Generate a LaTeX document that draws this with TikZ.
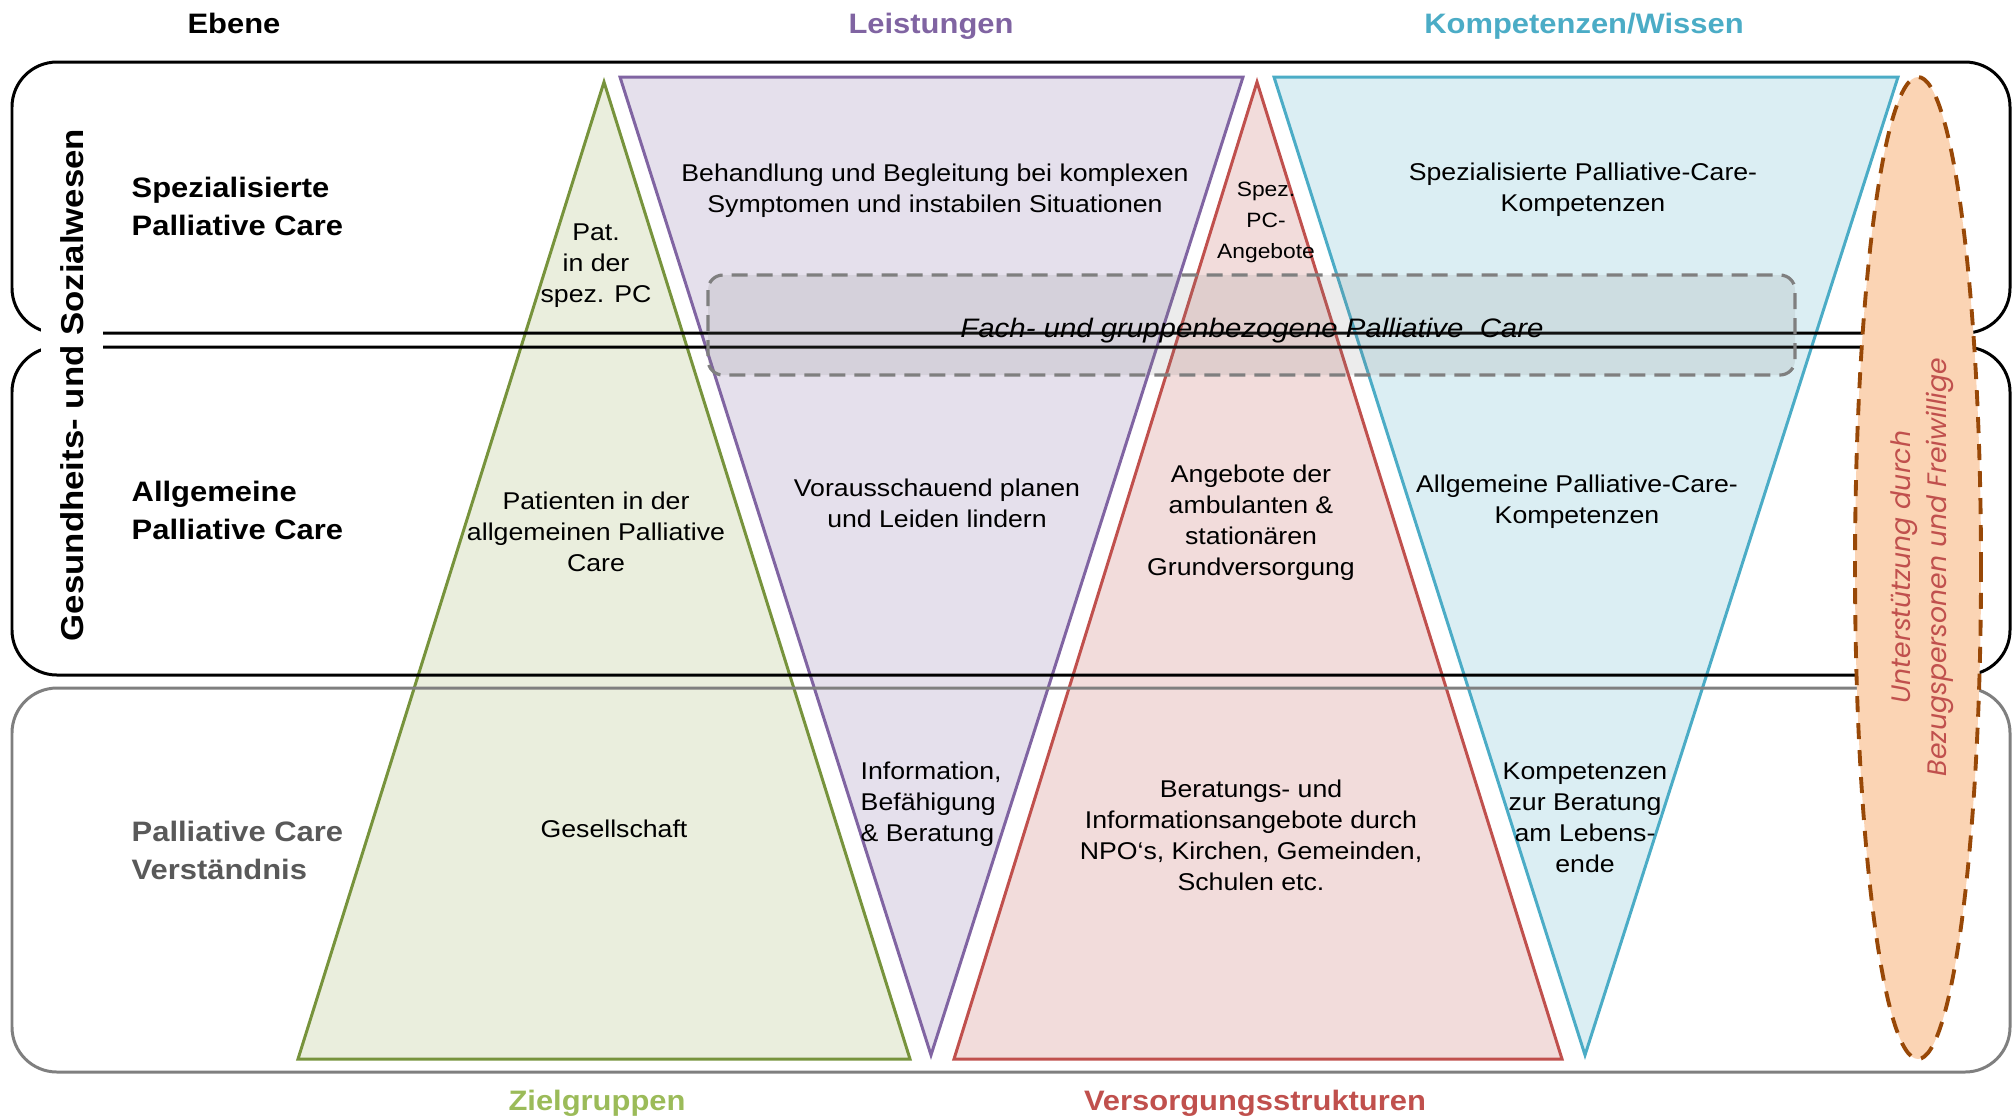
\documentclass[tikz,border=0pt]{standalone}
\usepackage{fontspec}
\setmainfont{Liberation Sans}[FakeStretch=1.1]
\newfontfamily\helperfont{Poppins}
\usepackage{xcolor}
\usetikzlibrary{positioning}

\definecolor{zgreen}{HTML}{77933C}
\definecolor{zgreenfill}{HTML}{EAEEDD}
\definecolor{zhead}{HTML}{9BBB59}
\definecolor{lpurple}{HTML}{8064A2}
\definecolor{lpurplefill}{HTML}{E5E0EC}
\definecolor{vred}{HTML}{C0504D}
\definecolor{vredfill}{HTML}{F2DCDB}
\definecolor{kblue}{HTML}{4BACC6}
\definecolor{kbluefill}{HTML}{DBEEF3}
\definecolor{ubrown}{HTML}{984807}
\definecolor{ubrownfill}{HTML}{FBD4B4}
\definecolor{verstgray}{HTML}{595959}
\definecolor{boxgray}{HTML}{7F7F7F}

\begin{document}
\begin{tikzpicture}[x=0.1mm, y=-0.1mm,
  tri/.style={line width=0.85pt},
  ebenebox/.style={line width=0.85pt, rounded corners=4.5mm},
  body/.style={align=center, inner sep=0pt, font=\fontsize{6.9}{8.8}\selectfont},
  head/.style={inner sep=0pt, anchor=base, font=\fontsize{8}{10}\selectfont\bfseries},
  ebenelabel/.style={align=left, inner sep=0pt, anchor=west,
    font=\fontsize{8}{10.8}\selectfont\bfseries}]

  \useasboundingbox (0,0) rectangle (2016,1118);

  % the four columns: two pyramids, two funnels
  \draw[tri, draw=zgreen, fill=zgreenfill] (604,82) -- (910,1059) -- (298,1059) -- cycle;
  \draw[tri, draw=lpurple, fill=lpurplefill] (620,77) -- (1243,77) -- (931,1055) -- cycle;
  \draw[tri, draw=vred, fill=vredfill] (1257,82) -- (1562,1059) -- (954,1059) -- cycle;
  \draw[tri, draw=kblue, fill=kbluefill] (1274,77) -- (1898,77) -- (1585,1055) -- cycle;

  % levels
  \draw[ebenebox] (12,62) rectangle (2010,333);
  \draw[ebenebox] (12,347) rectangle (2010,675);
  \draw[ebenebox, draw=boxgray] (12,688) rectangle (2010,1072);

  \node[fill=white, inner sep=1.9mm, rotate=90,
    font=\fontsize{9}{11}\selectfont\bfseries] (gsw) at (72,385)
    {Gesundheits- und Sozialwesen};

  % cross-cutting band
  \draw[draw=boxgray, line width=0.9pt, dash pattern=on 1.6mm off 0.9mm,
    fill=boxgray, fill opacity=0.15, rounded corners=1.5mm]
    (708,275) rectangle (1795,375);
  \node[inner sep=0pt, font=\fontsize{7.6}{9}\selectfont\itshape] (fach) at (1252,331)
    {Fach- und gruppenbezogene Palliative\ \ Care};

  % support by relatives and volunteers
  \draw[draw=ubrown, fill=ubrownfill, line width=1.1pt, dash pattern=on 1.6mm off 1.1mm]
    (1918,568) ellipse [x radius=6.3mm, y radius=49.1mm];
  \node[rotate=90, align=center, inner sep=0pt, text=vred,
    font=\helperfont\itshape\fontsize{7.6}{10.2}\selectfont] (unter) at (1922,567)
    {Unterstützung durch\\Bezugspersonen und Freiwillige};

  % column titles
  \node[head] (ebene) at (234,33) {Ebene};
  \node[head, text=lpurple] (leist) at (931,33) {Leistungen};
  \node[head, text=kblue] (komp) at (1584,33) {Kompetenzen/Wissen};
  \node[head, text=zhead] (ziel) at (597,1110) {Zielgruppen};
  \node[head, text=vred] (vers) at (1255,1110) {Versorgungsstrukturen};

  % level names
  \node[ebenelabel] (lvspez) at (131,206) {Spezialisierte\\Palliative Care};
  \node[ebenelabel] (lvallg) at (131,510) {Allgemeine\\Palliative Care};
  \node[ebenelabel, text=verstgray] (lvverst) at (131,850) {Palliative Care\\Verständnis};

  % Zielgruppen
  \node[body] (patspez) at (596,266) {Pat.\\in der\\spez. PC};
  \node[body] (patallg) at (596,532) {Patienten in der\\allgemeinen Palliative\\Care};
  \node[body] (gesell) at (614,829) {Gesellschaft};

  % Leistungen
  \node[body] (behand) at (935,191)
    {Behandlung und Begleitung bei komplexen\\Symptomen und instabilen Situationen};
  \node[body] (voraus) at (937,503) {Vorausschauend planen\\und Leiden lindern};
  \node[body, align=left, anchor=west] (info) at (860,804)
    {Information,\\Befähigung\\\& Beratung};

  % Versorgungsstrukturen
  \node[body, font=\fontsize{5.9}{8.8}\selectfont] (spezpc) at (1266,222)
    {Spez.\\PC-\\Angebote};
  \node[body] (grundv) at (1251,523)
    {Angebote der\\ambulanten \&\\stationären\\Grundversorgung};
  \node[body] (berat) at (1251,835)
    {Beratungs- und\\Informationsangebote durch\\NPO‘s, Kirchen, Gemeinden,\\Schulen etc.};

  % Kompetenzen/Wissen
  \node[body] (kspez) at (1583,190) {Spezialisierte Palliative-Care-\\Kompetenzen};
  \node[body] (kallg) at (1577,502) {Allgemeine Palliative-Care-\\Kompetenzen};
  \node[body] (kleb) at (1585,818) {Kompetenzen\\zur Beratung\\am Lebens-\\ende};
\end{tikzpicture}
\end{document}
